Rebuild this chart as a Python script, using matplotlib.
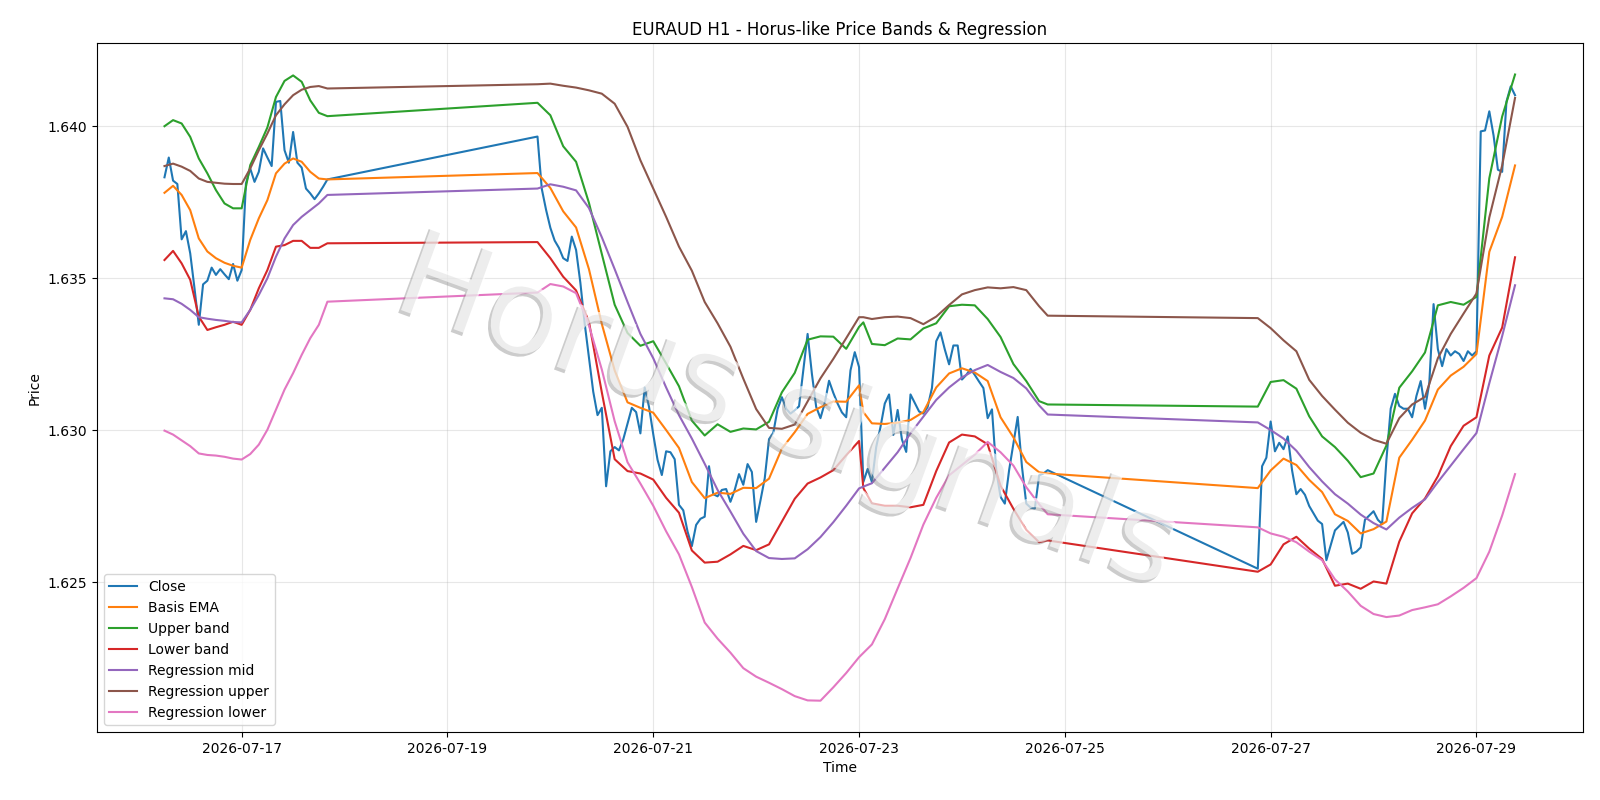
import matplotlib
matplotlib.use("Agg")
import matplotlib.pyplot as plt
import matplotlib.patheffects as pe
import pandas as pd

# ---- trading sessions (hourly bars) ----
session1 = pd.date_range("2026-07-16 06:00", "2026-07-17 20:00", freq="h")
session2 = pd.date_range("2026-07-19 21:00", "2026-07-24 20:00", freq="h")
session3 = pd.date_range("2026-07-26 21:00", "2026-07-29 09:00", freq="h")
close_time = session1.append(session2).append(session3)

# sample times at which the smooth indicator lines were read
idx2 = list(range(0, 76, 3)) + [76] + list(range(78, 118, 3)) + [119]
band_time = session1[::2].append(session2[idx2]).append(session3[::3])

close = [
    1.63832, 1.63897, 1.63821, 1.63810, 1.63628, 1.63655, 1.63582, 1.63467, 1.63347, 1.63480,
    1.63492, 1.63535, 1.63511, 1.63530, 1.63513, 1.63497, 1.63547, 1.63492, 1.63527,
    1.63812, 1.63861, 1.63817, 1.63850, 1.63927, 1.63897, 1.63869, 1.64080, 1.64083, 1.63921,
    1.63880, 1.63981, 1.63880, 1.63864, 1.63795, 1.63779, 1.63760, 1.63779, 1.63801, 1.63825,
    # session 2
    1.63966, 1.63794, 1.63725, 1.63666, 1.63624, 1.63600, 1.63566, 1.63557, 1.63637, 1.63593,
    1.63485, 1.63352, 1.63239, 1.63127, 1.63050, 1.63074, 1.62816, 1.62931, 1.62945, 1.62934,
    1.62970, 1.63022, 1.63074, 1.63060, 1.62990, 1.63141, 1.63078, 1.62987, 1.62903, 1.62853,
    1.62931, 1.62928, 1.62905, 1.62755, 1.62737, 1.62667, 1.62619, 1.62689, 1.62709, 1.62716,
    1.62882, 1.62790, 1.62783, 1.62804, 1.62807, 1.62765, 1.62804, 1.62856, 1.62821, 1.62889,
    1.62863, 1.62699, 1.62769, 1.62842, 1.62971, 1.62992, 1.63070, 1.63109, 1.63071, 1.63055,
    1.63066, 1.63079, 1.63197, 1.63317, 1.63186, 1.63077, 1.63040, 1.63090, 1.63163, 1.63123,
    1.63088, 1.63059, 1.63043, 1.63197, 1.63257, 1.63208, 1.62830, 1.62873, 1.62830, 1.62945,
    1.63011, 1.63088, 1.63118, 1.62985, 1.63067, 1.62970, 1.62929, 1.63118, 1.63090, 1.63062,
    1.63055, 1.63077, 1.63139, 1.63293, 1.63322, 1.63266, 1.63217, 1.63279, 1.63279, 1.63167,
    1.63182, 1.63202, 1.63182, 1.63160, 1.63139, 1.63040, 1.63069, 1.62869, 1.62781, 1.62759,
    1.62869, 1.62956, 1.63044, 1.62880, 1.62759, 1.62746, 1.62743, 1.62852, 1.62858, 1.62869,
    # session 3
    1.62545, 1.62882, 1.62910, 1.63029, 1.62931, 1.62959, 1.62938, 1.62980, 1.62868, 1.62790,
    1.62807, 1.62788, 1.62751, 1.62727, 1.62703, 1.62692, 1.62573, 1.62622, 1.62671, 1.62685,
    1.62699, 1.62664, 1.62594, 1.62601, 1.62615, 1.62706, 1.62720, 1.62734, 1.62706, 1.62692,
    1.62903, 1.63071, 1.63120, 1.63080, 1.63071, 1.63071, 1.63043, 1.63113, 1.63162, 1.63071,
    1.63155, 1.63415, 1.63267, 1.63211, 1.63267, 1.63246, 1.63260, 1.63251, 1.63228, 1.63260,
    1.63246, 1.63260, 1.63983, 1.63986, 1.64049, 1.63969, 1.63857, 1.63850, 1.64081, 1.64131, 1.64102,
]

basis_ema = [
    1.63781, 1.63804, 1.63774, 1.63724, 1.63631, 1.63588, 1.63566, 1.63551, 1.63541, 1.63535,
    1.63626, 1.63697, 1.63757, 1.63845, 1.63877, 1.63894, 1.63883, 1.63850, 1.63828, 1.63825,
    1.63846, 1.63797, 1.63720, 1.63667, 1.63530, 1.63350, 1.63197, 1.63092, 1.63074, 1.63058,
    1.63001, 1.62942, 1.62830, 1.62777, 1.62795, 1.62791, 1.62811, 1.62810, 1.62841, 1.62940,
    1.62994, 1.63054, 1.63076, 1.63095, 1.63094, 1.63148, 1.63060, 1.63023, 1.63021, 1.63025,
    1.63034, 1.63060, 1.63141, 1.63187, 1.63204, 1.63190, 1.63162, 1.63043, 1.62977, 1.62896,
    1.62862, 1.62858,
    1.62810, 1.62868, 1.62907, 1.62886, 1.62837, 1.62797, 1.62724, 1.62702, 1.62661, 1.62675,
    1.62700, 1.62910, 1.62969, 1.63032, 1.63134, 1.63180, 1.63209, 1.63251, 1.63587, 1.63702, 1.63871,
]

upper_band = [
    1.64000, 1.64020, 1.64009, 1.63965, 1.63894, 1.63845, 1.63790, 1.63746, 1.63730, 1.63730,
    1.63872, 1.63932, 1.63996, 1.64096, 1.64149, 1.64167, 1.64146, 1.64085, 1.64044, 1.64033,
    1.64077, 1.64036, 1.63934, 1.63883, 1.63748, 1.63580, 1.63413, 1.63320, 1.63278, 1.63293,
    1.63220, 1.63145, 1.63032, 1.62983, 1.63020, 1.62995, 1.63006, 1.63003, 1.63028, 1.63125,
    1.63189, 1.63298, 1.63309, 1.63308, 1.63268, 1.63340, 1.63355, 1.63284, 1.63280, 1.63302,
    1.63299, 1.63335, 1.63352, 1.63408, 1.63413, 1.63411, 1.63366, 1.63307, 1.63218, 1.63162,
    1.63096, 1.63085,
    1.63078, 1.63159, 1.63165, 1.63137, 1.63046, 1.62980, 1.62945, 1.62900, 1.62846, 1.62858,
    1.62950, 1.63140, 1.63194, 1.63256, 1.63411, 1.63422, 1.63413, 1.63439, 1.63829, 1.64032, 1.64170,
]

lower_band = [
    1.63560, 1.63590, 1.63549, 1.63495, 1.63374, 1.63330, 1.63339, 1.63347, 1.63357, 1.63347,
    1.63396, 1.63467, 1.63527, 1.63604, 1.63609, 1.63623, 1.63623, 1.63600, 1.63600, 1.63615,
    1.63619, 1.63566, 1.63505, 1.63460, 1.63357, 1.63125, 1.62905, 1.62866, 1.62858, 1.62838,
    1.62778, 1.62729, 1.62605, 1.62565, 1.62568, 1.62592, 1.62620, 1.62606, 1.62625, 1.62700,
    1.62775, 1.62825, 1.62845, 1.62869, 1.62918, 1.62965, 1.62810, 1.62760, 1.62752, 1.62752,
    1.62747, 1.62755, 1.62866, 1.62960, 1.62986, 1.62980, 1.62954, 1.62818, 1.62742, 1.62673,
    1.62632, 1.62638,
    1.62535, 1.62559, 1.62625, 1.62650, 1.62611, 1.62577, 1.62489, 1.62496, 1.62479, 1.62503,
    1.62496, 1.62634, 1.62727, 1.62776, 1.62849, 1.62948, 1.63015, 1.63043, 1.63246, 1.63338, 1.63569,
]

reg_mid = [
    1.63434, 1.63431, 1.63416, 1.63396, 1.63372, 1.63367, 1.63363, 1.63360, 1.63356, 1.63355,
    1.63396, 1.63445, 1.63500, 1.63571, 1.63631, 1.63675, 1.63702, 1.63724, 1.63746, 1.63774,
    1.63795, 1.63809, 1.63801, 1.63789, 1.63731, 1.63635, 1.63530, 1.63422, 1.63317, 1.63237,
    1.63141, 1.63050, 1.62973, 1.62890, 1.62804, 1.62733, 1.62660, 1.62603, 1.62580, 1.62577,
    1.62579, 1.62609, 1.62649, 1.62698, 1.62752, 1.62809, 1.62815, 1.62826, 1.62877, 1.62928,
    1.62990, 1.63045, 1.63100, 1.63141, 1.63174, 1.63198, 1.63215, 1.63192, 1.63172, 1.63138,
    1.63082, 1.63052,
    1.63026, 1.63001, 1.62973, 1.62933, 1.62879, 1.62832, 1.62790, 1.62759, 1.62723, 1.62695,
    1.62674, 1.62713, 1.62745, 1.62773, 1.62830, 1.62884, 1.62938, 1.62991, 1.63155, 1.63310, 1.63477,
]

reg_upper = [
    1.63869, 1.63877, 1.63867, 1.63853, 1.63828, 1.63817, 1.63814, 1.63811, 1.63810, 1.63810,
    1.63861, 1.63921, 1.63976, 1.64036, 1.64072, 1.64102, 1.64120, 1.64129, 1.64132, 1.64124,
    1.64138, 1.64140, 1.64133, 1.64127, 1.64118, 1.64107, 1.64074, 1.63998, 1.63888, 1.63795,
    1.63702, 1.63604, 1.63525, 1.63422, 1.63352, 1.63275, 1.63170, 1.63070, 1.63008, 1.63005,
    1.63019, 1.63095, 1.63171, 1.63235, 1.63303, 1.63372, 1.63372, 1.63366, 1.63372, 1.63374,
    1.63369, 1.63349, 1.63374, 1.63412, 1.63447, 1.63461, 1.63470, 1.63467, 1.63471, 1.63461,
    1.63408, 1.63377,
    1.63369, 1.63336, 1.63296, 1.63260, 1.63166, 1.63113, 1.63068, 1.63025, 1.62992, 1.62969,
    1.62956, 1.63040, 1.63085, 1.63110, 1.63237, 1.63317, 1.63384, 1.63450, 1.63700, 1.63871, 1.64093,
]

reg_lower = [
    1.62999, 1.62986, 1.62967, 1.62948, 1.62924, 1.62919, 1.62917, 1.62913, 1.62907, 1.62904,
    1.62922, 1.62953, 1.63002, 1.63068, 1.63134, 1.63188, 1.63248, 1.63303, 1.63347, 1.63423,
    1.63453, 1.63481, 1.63473, 1.63451, 1.63345, 1.63200, 1.63030, 1.62895, 1.62825, 1.62752,
    1.62668, 1.62592, 1.62485, 1.62368, 1.62315, 1.62269, 1.62218, 1.62190, 1.62170, 1.62149,
    1.62126, 1.62112, 1.62111, 1.62155, 1.62202, 1.62254, 1.62268, 1.62296, 1.62379, 1.62480,
    1.62580, 1.62690, 1.62778, 1.62852, 1.62886, 1.62920, 1.62962, 1.62928, 1.62884, 1.62813,
    1.62757, 1.62724,
    1.62681, 1.62661, 1.62650, 1.62632, 1.62601, 1.62573, 1.62510, 1.62470, 1.62423, 1.62396,
    1.62386, 1.62391, 1.62409, 1.62418, 1.62428, 1.62454, 1.62482, 1.62514, 1.62601, 1.62720, 1.62856,
]

series = [
    ("Close", close_time, close),
    ("Basis EMA", band_time, basis_ema),
    ("Upper band", band_time, upper_band),
    ("Lower band", band_time, lower_band),
    ("Regression mid", band_time, reg_mid),
    ("Regression upper", band_time, reg_upper),
    ("Regression lower", band_time, reg_lower),
]

fig = plt.figure(figsize=(16, 8), dpi=100)
ax = fig.add_axes([0.0606, 0.085, 0.9285, 0.861])

for label, t, v in series:
    n = min(len(t), len(v))
    ax.plot(t[:n], v[:n], label=label, linewidth=1.5)

ax.set_title("EURAUD H1 - Horus-like Price Bands & Regression", fontsize=12)
ax.set_xlabel("Time")
ax.set_ylabel("Price")
ax.grid(True, alpha=0.3)
ax.legend(loc="lower left")

ax.text(0.465, 0.46, "Horus signals", transform=ax.transAxes,
        ha="center", va="center", rotation=-20, fontsize=88,
        color="white", alpha=0.65, zorder=10,
        path_effects=[pe.withSimplePatchShadow(offset=(-2, -2),
                                               shadow_rgbFace="0.5",
                                               alpha=0.4)])

fig.savefig("out.png", dpi=100)
